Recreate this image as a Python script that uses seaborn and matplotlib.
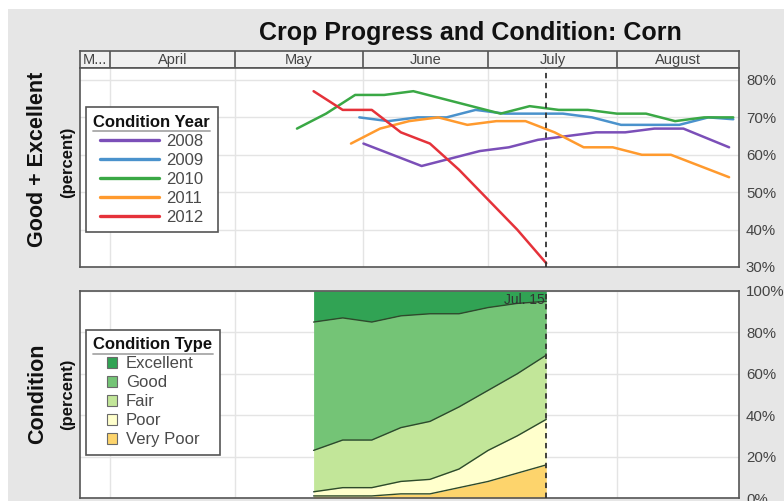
import pandas as pd
import seaborn as sns
import matplotlib.pyplot as plt
import matplotlib.dates as mdates
from matplotlib.patches import Patch
from matplotlib.lines import Line2D

# Good + Excellent (percent), weekly, every season put on the 2012 calendar
years = ["2008", "2009", "2010", "2011", "2012"]
year_colors = ["#7b4fb8", "#4a92cc", "#3aa845", "#ff9a2e", "#e5323a"]

dates_2008 = ["2012-06-01", "2012-06-08", "2012-06-15", "2012-06-22", "2012-06-29", "2012-07-06", "2012-07-13",
              "2012-07-20", "2012-07-27", "2012-08-03", "2012-08-10", "2012-08-17", "2012-08-28"]
ge_2008 = [63, 60, 57, 59, 61, 62, 64, 65, 66, 66, 67, 67, 62]

dates_2009 = ["2012-05-31", "2012-06-07", "2012-06-14", "2012-06-21", "2012-06-28", "2012-07-05", "2012-07-12",
              "2012-07-19", "2012-07-26", "2012-08-02", "2012-08-09", "2012-08-16", "2012-08-23", "2012-08-29"]
ge_2009 = [70, 69, 70, 70, 72, 71, 71, 71, 70, 68, 68, 68, 70, 69.5]

dates_2010 = ["2012-05-16", "2012-05-23", "2012-05-30", "2012-06-06", "2012-06-13", "2012-06-20", "2012-06-27",
              "2012-07-04", "2012-07-11", "2012-07-18", "2012-07-25", "2012-08-01", "2012-08-08", "2012-08-15",
              "2012-08-22", "2012-08-29"]
ge_2010 = [67, 71, 76, 76, 77, 75, 73, 71, 73, 72, 72, 71, 71, 69, 70, 70]

dates_2011 = ["2012-05-29", "2012-06-05", "2012-06-12", "2012-06-19", "2012-06-26", "2012-07-03", "2012-07-10",
              "2012-07-17", "2012-07-24", "2012-07-31", "2012-08-07", "2012-08-14", "2012-08-21", "2012-08-28"]
ge_2011 = [63, 67, 69, 70, 68, 69, 69, 66, 62, 62, 60, 60, 57, 54]

dates_2012 = ["2012-05-20", "2012-05-27", "2012-06-03", "2012-06-10", "2012-06-17", "2012-06-24", "2012-07-01",
              "2012-07-08", "2012-07-15"]
ge_2012 = [77, 72, 72, 66, 63, 56, 48, 40, 31]

# 2012 condition breakdown (percent), same weeks as dates_2012
cond_types = ["Excellent", "Good", "Fair", "Poor", "Very Poor"]
cond_colors = ["#31a354", "#74c476", "#c2e699", "#ffffcc", "#fdd46c"]
very_poor = [1, 1, 1, 2, 2, 5, 8, 12, 16]
poor = [2, 4, 4, 6, 7, 9, 15, 18, 22]
fair = [20, 23, 23, 26, 28, 30, 29, 30, 31]
good = [62, 59, 57, 54, 52, 45, 40, 34, 26]
excellent = [15, 13, 15, 12, 11, 11, 8, 6, 5]

month_names = ["M...", "April", "May", "June", "July", "August"]
month_starts = ["2012-03-01", "2012-04-01", "2012-05-01", "2012-06-01", "2012-07-01", "2012-08-01"]
cutoff = "2012-07-15"

rows = []
for yr, ds, vs in zip(years, [dates_2008, dates_2009, dates_2010, dates_2011, dates_2012],
                      [ge_2008, ge_2009, ge_2010, ge_2011, ge_2012]):
    for d, v in zip(ds, vs):
        rows.append({"date": pd.Timestamp(d), "pct": v, "year": yr})
ge_df = pd.DataFrame(rows)

cond_df = pd.DataFrame({"date": pd.to_datetime(dates_2012), "Very Poor": very_poor, "Poor": poor,
                        "Fair": fair, "Good": good, "Excellent": excellent})

sns.set_theme(style="white")
plt.rcParams["font.family"] = ["Liberation Sans", "DejaVu Sans"]

fig = plt.figure(figsize=(7.84, 5.01), dpi=100)
fig.patch.set_facecolor("white")
fig.add_artist(plt.Rectangle((8 / 784, 0), 1, 1 - 9 / 501, transform=fig.transFigure,
                             facecolor="#e6e6e6", edgecolor="none", zorder=-10))

L, W = 80 / 784, 659 / 784
ax_hdr = fig.add_axes([L, 1 - 68 / 501, W, 17 / 501])
ax_top = fig.add_axes([L, 1 - 267 / 501, W, 199 / 501])
ax_bot = fig.add_axes([L, 1 - 498 / 501, W, 207 / 501])

px_day = 4.155
apr1 = mdates.date2num(pd.Timestamp("2012-04-01"))
x0 = apr1 - 30 / px_day
x1 = x0 + 659 / px_day
starts = [mdates.date2num(pd.Timestamp(s)) for s in month_starts]
jul15 = mdates.date2num(pd.Timestamp(cutoff))

for ax in (ax_hdr, ax_top, ax_bot):
    ax.set_xlim(x0, x1)
    for sp in ax.spines.values():
        sp.set_visible(True)
        sp.set_color("#555555")
        sp.set_linewidth(1.2)

# month header
ax_hdr.set_facecolor("#f0f0f0")
ax_hdr.set_ylim(0, 1)
ax_hdr.set_xticks([])
ax_hdr.set_yticks([])
edges = starts[1:] + [x1]
for i, name in enumerate(month_names):
    lo = max(starts[i], x0)
    hi = edges[i]
    ax_hdr.text((lo + hi) / 2, 0.45, name, ha="center", va="center", fontsize=10.5, color="#444444")
    if i > 0:
        ax_hdr.axvline(starts[i], color="#555555", lw=1.2)

# top panel: Good + Excellent lines
ax_top.set_facecolor("white")
sns.lineplot(data=ge_df, x="date", y="pct", hue="year", hue_order=years, palette=year_colors,
             lw=1.8, legend=False, ax=ax_top, zorder=3)
ax_top.set_xlim(x0, x1)
ax_top.set_ylim(30, 83.2)
ax_top.set_yticks([30, 40, 50, 60, 70, 80])
ax_top.set_yticklabels([f"{v}%" for v in [30, 40, 50, 60, 70, 80]])
ax_top.axvline(jul15, color="#333333", lw=1.3, ls=(0, (3, 2.5)), zorder=4)

# bottom panel: stacked condition areas
ax_bot.set_facecolor("white")
cum = [0] * len(dates_2012)
for name in ["Very Poor", "Poor", "Fair", "Good", "Excellent"]:
    top = [c + v for c, v in zip(cum, cond_df[name])]
    ax_bot.fill_between(cond_df["date"], cum, top, color=cond_colors[cond_types.index(name)],
                        lw=0, zorder=1)
    if name != "Excellent":
        sns.lineplot(x=cond_df["date"], y=top, color="#2e4a2a", lw=1.0, ax=ax_bot, zorder=3)
    cum = top
ax_bot.set_xlim(x0, x1)
ax_bot.set_ylim(0, 100)
ax_bot.set_yticks([0, 20, 40, 60, 80, 100])
ax_bot.set_yticklabels([f"{v}%" for v in [0, 20, 40, 60, 80, 100]])
ax_bot.axvline(jul15, color="#333333", lw=1.3, ls=(0, (3, 2.5)), zorder=4)
ax_bot.text(jul15 - 0.3, 95.5, "Jul. 15", ha="right", va="center", fontsize=10, color="#333333", zorder=5)

for ax in (ax_top, ax_bot):
    ax.set_xlabel("")
    ax.set_ylabel("")
    ax.set_xticks(starts[1:])
    ax.set_xticklabels([])
    ax.grid(True, color="#e4e4e4", lw=1.0, zorder=0)
    ax.set_axisbelow(True)
    ax.yaxis.tick_right()
    ax.tick_params(axis="y", length=0, pad=5, labelsize=10.8, labelcolor="#444444")
    ax.tick_params(axis="x", length=0)

# legends
year_handles = [Line2D([0], [0], color=c, lw=2.4) for c in year_colors]
leg1 = ax_top.legend(year_handles, years, title="Condition Year", loc="upper left",
                     bbox_to_anchor=(0.0091, 0.804), borderaxespad=0, fontsize=12,
                     handlelength=3.5, labelspacing=0.24, borderpad=0.45, handletextpad=0.45,
                     frameon=True, fancybox=False, edgecolor="#555555", framealpha=1)
type_handles = [Patch(facecolor=c, edgecolor="#6a6a6a", lw=0.8) for c in cond_colors]
leg2 = ax_bot.legend(type_handles, cond_types, title="Condition Type", loc="upper left",
                     bbox_to_anchor=(0.0091, 0.8116), borderaxespad=0, fontsize=12,
                     handlelength=0.65, handleheight=0.65, labelspacing=0.24, borderpad=0.45,
                     handletextpad=0.5, frameon=True, fancybox=False, edgecolor="#555555",
                     framealpha=1)
for leg in (leg1, leg2):
    leg.get_title().set_fontweight("bold")
    leg.get_title().set_fontsize(12)
    leg.get_title().set_color("#111111")
    leg.get_frame().set_linewidth(1.2)
    for t in leg.get_texts():
        t.set_color("#4a4a4a")

# titles and side labels
fig.text(470 / 784, 1 - 33 / 501, "Crop Progress and Condition: Corn", ha="center", va="center",
         fontsize=18, fontweight="bold", color="#111111")
fig.text(38 / 784, 1 - 159 / 501, "Good + Excellent", rotation=90, ha="center", va="center",
         fontsize=15.5, fontweight="bold", color="#111111")
fig.text(68 / 784, 1 - 162 / 501, "(percent)", rotation=90, ha="center", va="center",
         fontsize=12, fontweight="bold", color="#111111")
fig.text(38 / 784, 1 - 394 / 501, "Condition", rotation=90, ha="center", va="center",
         fontsize=15.5, fontweight="bold", color="#111111")
fig.text(68 / 784, 1 - 394 / 501, "(percent)", rotation=90, ha="center", va="center",
         fontsize=12, fontweight="bold", color="#111111")

# grey rule under each legend title
fig.canvas.draw()
renderer = fig.canvas.get_renderer()
for leg in (leg1, leg2):
    bb = leg.get_title().get_window_extent(renderer)
    y = bb.y0 - 1.5
    fig.add_artist(Line2D([bb.x0 / 784, bb.x1 / 784], [y / 501, y / 501], transform=fig.transFigure,
                          color="#a8a8a8", lw=1.3, zorder=10))

fig.savefig("out.png", dpi=100, facecolor=fig.get_facecolor())
